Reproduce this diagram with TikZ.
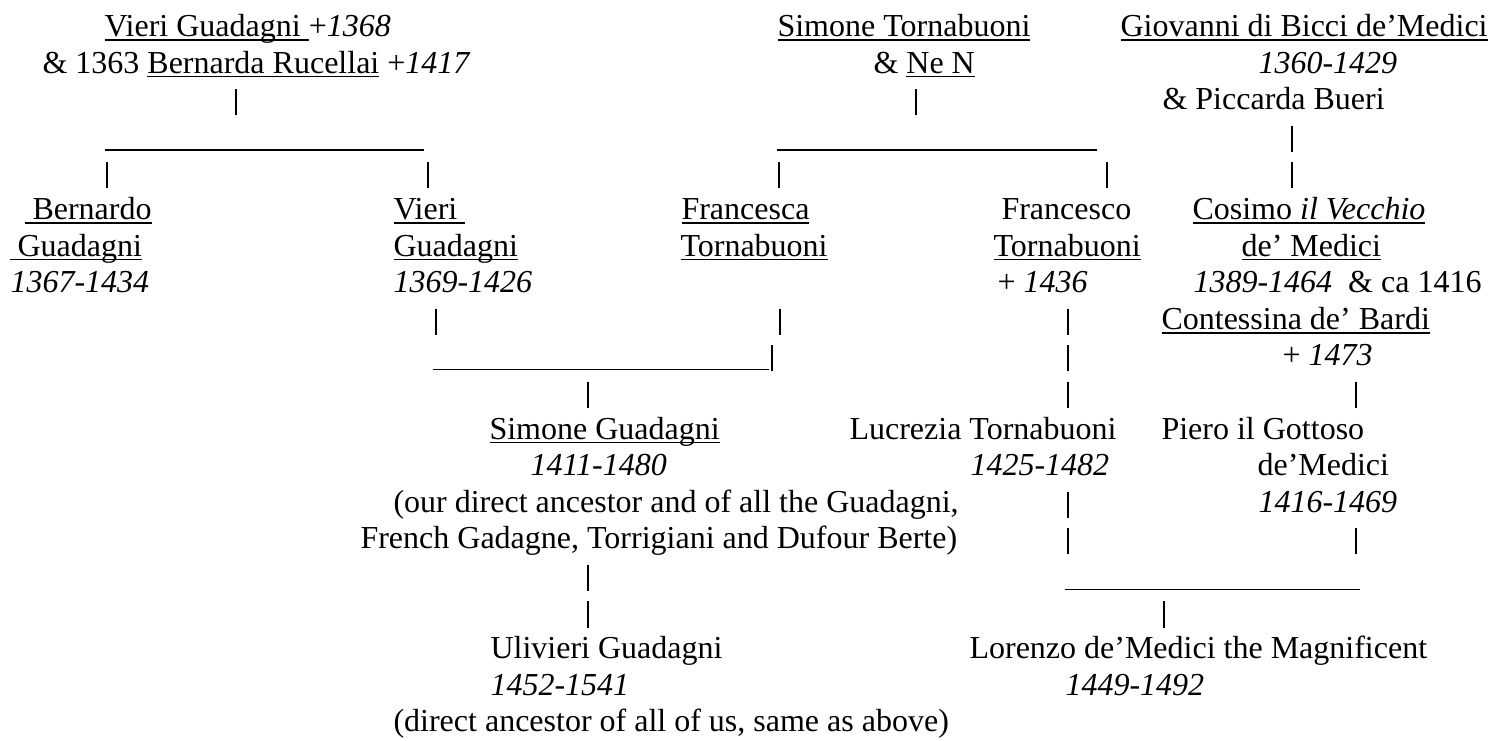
\documentclass[tikz,border=0pt]{standalone}
\usepackage{fontspec}
\setmainfont{Liberation Serif}
\newcommand{\uln}[1]{\setbox0=\hbox{#1}\rlap{\rule[-1.6pt]{\wd0}{0.55pt}}\box0\relax}
\tikzset{
  entry/.style ={anchor=base west,inner sep=0pt,font=\fontsize{12}{13.7}\selectfont},
  pipe/.style  ={line width=0.45pt},
  hline/.style ={line width=0.5pt},
}

\begin{document}
\begin{tikzpicture}[x=0.375pt,y=-13.725pt]
\useasboundingbox (0,0) rectangle (1489,20.22);
% ── Guadagni ───────────────────────────────────────────────────────────────
\node[entry] (vieri)  at (104,1) {\uln{Vieri Guadagni\ }+\textit{1368}};
\node[entry] (bern)   at (42,2)  {\& 1363 \uln{Bernarda Rucellai} +\textit{1417}};
\node[entry] (bdo)    at (24,6)  {\uln{\ Bernardo}};
\node[entry] (bdoG)   at (9,7)   {\uln{\ Guadagni}};
\node[entry] (bdoD)   at (10,8)  {\textit{1367-1434}};
\node[entry] (vii)    at (393,6) {\uln{Vieri\ }};
\node[entry] (viiG)   at (393,7) {\uln{Guadagni}};
\node[entry] (viiD)   at (393,8) {\textit{1369-1426}};

% ── Tornabuoni ─────────────────────────────────────────────────────────────
\node[entry] (simT)   at (777,1) {\uln{Simone Tornabuoni}};
\node[entry] (nen)    at (873,2) {\& \uln{Ne N}};
\node[entry] (fca)    at (681,6) {\uln{Francesca}};
\node[entry] (fcaT)   at (680,7) {\uln{Tornabuoni}};
\node[entry] (fco)    at (1001,6) {Francesco};
\node[entry] (fcoT)   at (993,7) {\uln{Tornabuoni}};
\node[entry] (fcoD)   at (997,8) {+ \textit{1436}};

% ── Medici ─────────────────────────────────────────────────────────────────
\node[entry] (giov)   at (1120,1) {\uln{Giovanni di Bicci de'Medici}};
\node[entry] (giovD)  at (1258,2) {\textit{1360-1429}};
\node[entry] (picc)   at (1162,3) {\& Piccarda Bueri};
\node[entry] (cos)    at (1192,6) {\uln{Cosimo \textit{il Vecchio}}};
\node[entry] (cosM)   at (1241,7) {\uln{de' Medici}};
\node[entry] (cosD)   at (1193,8) {\textit{1389-1464}\ \ \& ca 1416};
\node[entry] (cont)   at (1161,9) {\uln{Contessina de' Bardi}};
\node[entry] (contD)  at (1282,10) {+ \textit{1473}};

% ── next generation ────────────────────────────────────────────────────────
\node[entry] (simG)   at (489,12) {\uln{Simone Guadagni}};
\node[entry] (simGD)  at (530,13) {\textit{1411-1480}};
\node[entry] (simGa)  at (393,14) {(our direct ancestor and of all the Guadagni,};
\node[entry] (simGb)  at (360,15) {French Gadagne, Torrigiani and Dufour Berte)};
\node[entry] (luc)    at (849,12) {Lucrezia Tornabuoni};
\node[entry] (lucD)   at (970,13) {\textit{1425-1482}};
\node[entry] (pie)    at (1161,12) {Piero il Gottoso};
\node[entry] (pieM)   at (1257,13) {de'Medici};
\node[entry] (pieD)   at (1258,14) {\textit{1416-1469}};

\node[entry] (uli)    at (490,18) {Ulivieri Guadagni};
\node[entry] (uliD)   at (490,19) {\textit{1452-1541}};
\node[entry] (uliN)   at (393,20) {(direct ancestor of all of us, same as above)};
\node[entry] (lor)    at (969,18) {Lorenzo de'Medici the Magnificent};
\node[entry] (lorD)   at (1065,19) {\textit{1449-1492}};

% ── lines ──────────────────────────────────────────────────────────────────
\foreach \x/\r in {236/3,916/3,1292/4,107/5,428/5,779/5,1107/5,1292/5,
                   436/9,780/9,1068/9,772/10,1068/10,588/11,1068/11,1356/11,
                   1068/14,1068/15,1356/15,588/16,588/17,1164/17}
  \draw[pipe] (\x,\r-0.57) -- (\x,\r+0.15);
\draw[hline] (105,4.1) -- (424,4.1);
\draw[hline] (777,4.1) -- (1097,4.1);
\draw[hline] (433,10.1) -- (769,10.1);
\draw[hline] (1065,16.1) -- (1360,16.1);
\end{tikzpicture}
\end{document}
